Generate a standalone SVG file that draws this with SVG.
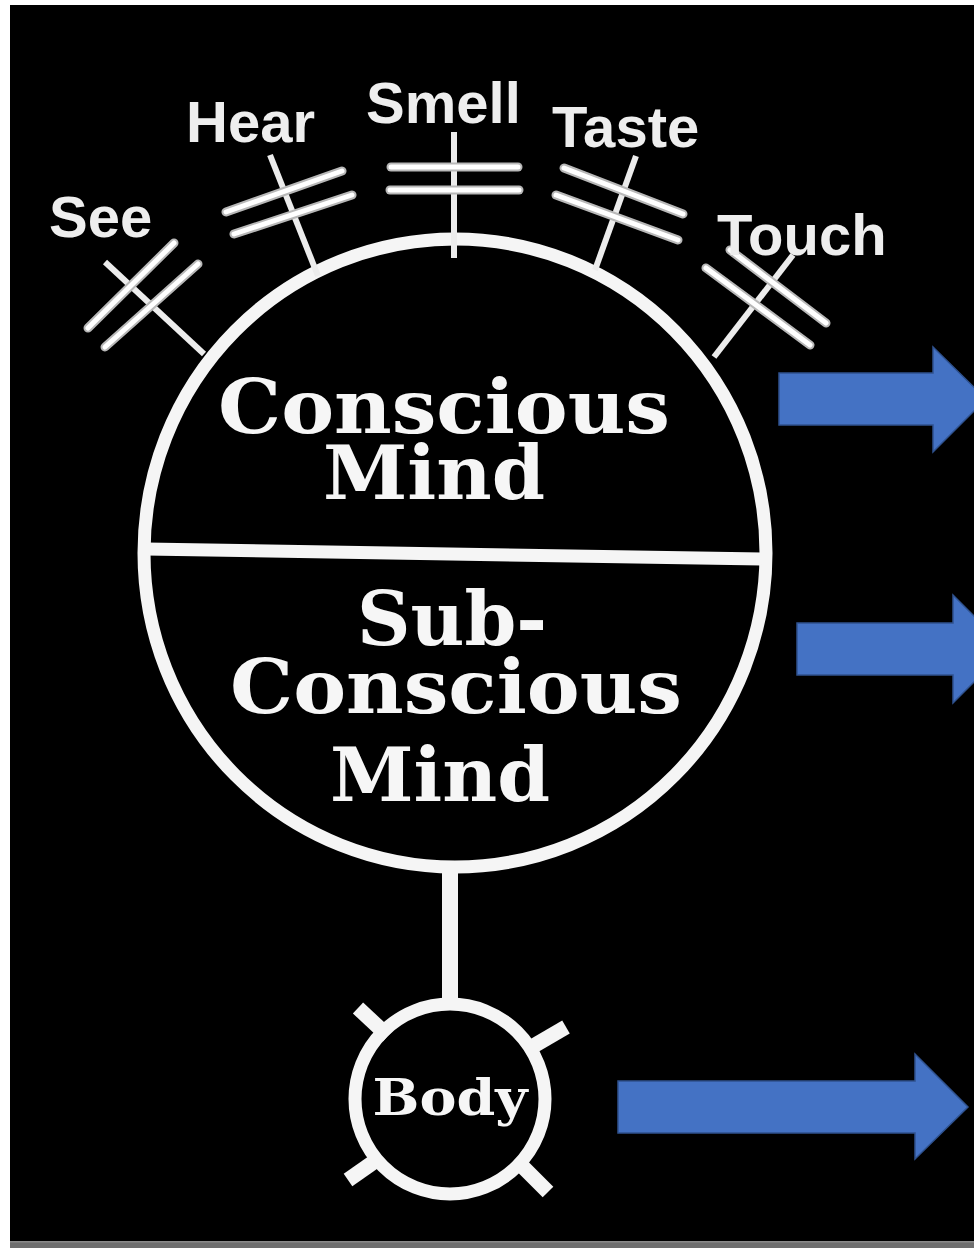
<svg xmlns="http://www.w3.org/2000/svg" width="974" height="1248" viewBox="0 0 974 1248">
  <style>
    .ring { fill: none; stroke: #f5f5f5; stroke-width: 13; }
    .bar { stroke: #b8b8b8; stroke-width: 9; stroke-linecap: round; }
    .barc { stroke: #ffffff; stroke-width: 5; stroke-linecap: round; }
    .stalk { stroke: #ececec; stroke-width: 6; stroke-linecap: butt; }
    .sense { font-family: "Liberation Sans", Arial, sans-serif; font-weight: bold; font-size: 58px; fill: #eeeeee; }
    .mind { font-family: "DejaVu Serif", "Liberation Serif", serif; font-weight: bold; font-size: 74px; fill: #f6f6f6; text-anchor: middle; }
    .bodytxt { font-family: "DejaVu Serif", "Liberation Serif", serif; font-weight: bold; font-size: 51px; fill: #f6f6f6; text-anchor: middle; }
    .arrow { fill: #4472C4; stroke: #2F528F; stroke-width: 1.5; }
  </style>

  <!-- background -->
  <rect x="0" y="0" width="974" height="1248" fill="#ffffff"/>
  <rect x="10" y="5" width="964" height="1236" fill="#000000"/>
  <rect x="10" y="1241" width="964" height="7" fill="#6e6e6e"/>
  <rect x="10" y="1241" width="964" height="1.5" fill="#8a8a8a"/>

  <!-- main mind circle -->
  <g id="mind">
    <ellipse class="ring" cx="455" cy="553" rx="311" ry="314"/>
    <line x1="146" y1="549" x2="762" y2="559" stroke="#f5f5f5" stroke-width="13"/>
    <text class="mind" x="444" y="433" textLength="452" lengthAdjust="spacingAndGlyphs">Conscious</text>
    <text class="mind" x="434" y="499" textLength="222" lengthAdjust="spacingAndGlyphs">Mind</text>
    <text class="mind" x="452" y="645" textLength="190" lengthAdjust="spacingAndGlyphs">Sub-</text>
    <text class="mind" x="456" y="713" textLength="452" lengthAdjust="spacingAndGlyphs">Conscious</text>
    <text class="mind" x="440" y="801" textLength="220" lengthAdjust="spacingAndGlyphs">Mind</text>
  </g>

  <!-- senses -->
  <g id="see">
    <line class="stalk" x1="105" y1="262" x2="204" y2="354"/>
    <line class="bar" x1="88" y1="328" x2="174" y2="243"/>
    <line class="bar" x1="105" y1="347" x2="198" y2="264"/>
    <line class="barc" x1="88" y1="328" x2="174" y2="243"/>
    <line class="barc" x1="105" y1="347" x2="198" y2="264"/>
    <text class="sense" x="49" y="237">See</text>
  </g>

  <g id="hear">
    <line class="stalk" x1="270" y1="155" x2="318" y2="276"/>
    <line class="bar" x1="226" y1="212" x2="342" y2="171"/>
    <line class="bar" x1="234" y1="234" x2="352" y2="195"/>
    <line class="barc" x1="226" y1="212" x2="342" y2="171"/>
    <line class="barc" x1="234" y1="234" x2="352" y2="195"/>
    <text class="sense" x="186" y="142">Hear</text>
  </g>

  <g id="smell">
    <line class="stalk" x1="454" y1="132" x2="454" y2="258"/>
    <line class="bar" x1="391" y1="167" x2="518" y2="167"/>
    <line class="bar" x1="390" y1="190" x2="519" y2="190"/>
    <line class="barc" x1="391" y1="167" x2="518" y2="167"/>
    <line class="barc" x1="390" y1="190" x2="519" y2="190"/>
    <text class="sense" x="366" y="123">Smell</text>
  </g>

  <g id="taste">
    <line class="stalk" x1="636" y1="156" x2="595" y2="270"/>
    <line class="bar" x1="564" y1="168" x2="683" y2="214"/>
    <line class="bar" x1="556" y1="195" x2="678" y2="240"/>
    <line class="barc" x1="564" y1="168" x2="683" y2="214"/>
    <line class="barc" x1="556" y1="195" x2="678" y2="240"/>
    <text class="sense" x="552" y="147">Taste</text>
  </g>

  <g id="touch">
    <line class="stalk" x1="793" y1="255" x2="714" y2="357"/>
    <line class="bar" x1="706" y1="268" x2="810" y2="345"/>
    <line class="bar" x1="730" y1="250" x2="826" y2="323"/>
    <line class="barc" x1="706" y1="268" x2="810" y2="345"/>
    <line class="barc" x1="730" y1="250" x2="826" y2="323"/>
    <text class="sense" x="717" y="255">Touch</text>
  </g>

  <!-- body -->
  <g id="body">
    <circle class="ring" cx="450" cy="1099" r="95" stroke-width="14"/>
    <g stroke="#f5f5f5" stroke-width="15" stroke-linecap="butt">
      <line x1="358" y1="1008" x2="388" y2="1036"/>
      <line x1="566" y1="1027" x2="530" y2="1048"/>
      <line x1="348" y1="1180" x2="378" y2="1159"/>
      <line x1="548" y1="1192" x2="520" y2="1164"/>
    </g>
    <text class="bodytxt" x="450" y="1115" textLength="155" lengthAdjust="spacingAndGlyphs">Body</text>
  </g>

  <!-- connectors -->
  <g id="connectors">
    <line x1="450" y1="866" x2="450" y2="1006" stroke="#f5f5f5" stroke-width="16"/>
    <polygon class="arrow" points="779,373 933,373 933,347 986,399 933,452 933,425 779,425"/>
    <polygon class="arrow" points="797,623 953,623 953,595 1007,649 953,703 953,675 797,675"/>
    <polygon class="arrow" points="618,1081 915,1081 915,1054 968,1107 915,1159 915,1133 618,1133"/>
  </g>
</svg>
